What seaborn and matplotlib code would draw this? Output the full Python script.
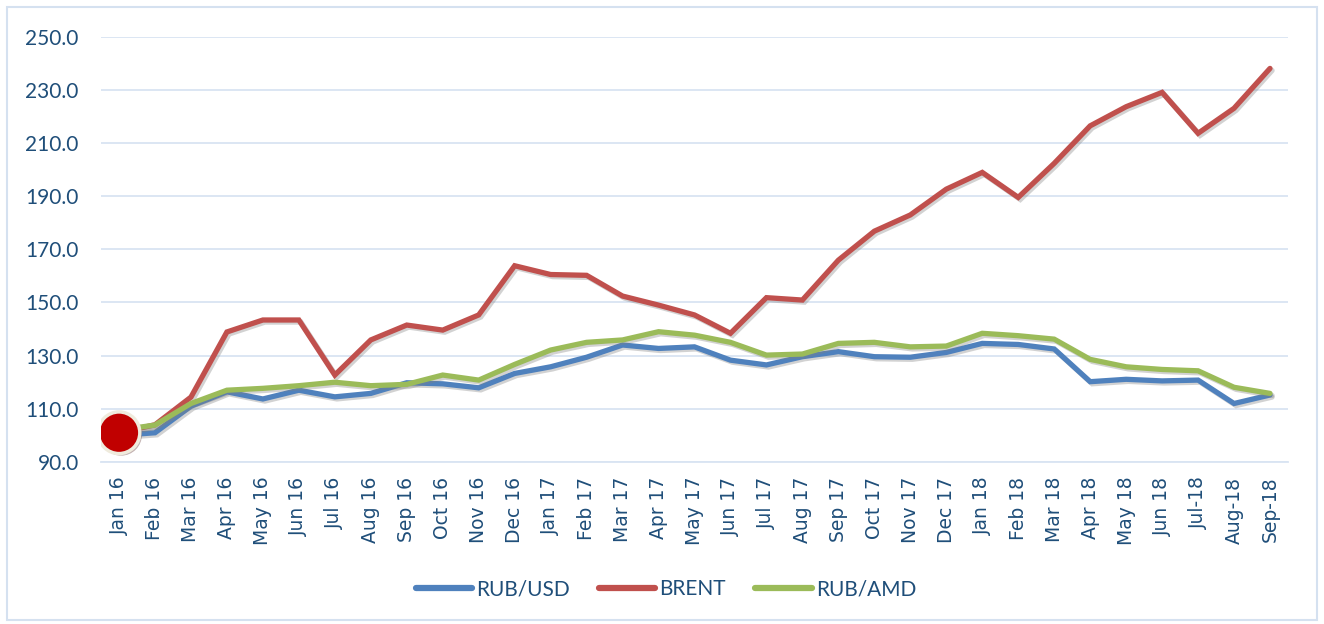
import matplotlib
matplotlib.use("Agg")
import matplotlib.pyplot as plt
import matplotlib.patheffects as pe
from matplotlib.patches import Rectangle
from matplotlib.lines import Line2D
import seaborn as sns
import pandas as pd

months = ["Jan 16", "Feb 16", "Mar 16", "Apr 16", "May 16", "Jun 16", "Jul 16",
          "Aug 16", "Sep 16", "Oct 16", "Nov 16", "Dec 16",
          "Jan 17", "Feb 17", "Mar 17", "Apr 17", "May 17", "Jun 17", "Jul 17",
          "Aug 17", "Sep 17", "Oct 17", "Nov 17", "Dec 17",
          "Jan 18", "Feb 18", "Mar 18", "Apr 18", "May 18", "Jun 18", "Jul-18",
          "Aug-18", "Sep-18"]

rub_usd = [100.0, 101.0, 111.0, 116.4, 113.7, 117.0, 114.5, 115.8, 119.8, 119.4,
           117.9, 123.3, 125.8, 129.4, 134.0, 132.7, 133.3, 128.3, 126.5, 129.6,
           131.5, 129.6, 129.4, 131.2, 134.6, 134.2, 132.5, 120.2, 121.1, 120.5,
           120.8, 112.0, 115.2]

brent = [101.0, 104.0, 114.4, 138.9, 143.4, 143.4, 122.7, 135.9, 141.5, 139.6,
         145.3, 163.8, 160.5, 160.2, 152.4, 149.0, 145.3, 138.4, 151.8, 150.9,
         165.9, 176.8, 182.9, 192.6, 198.9, 189.5, 202.3, 216.4, 223.6, 229.0,
         213.6, 223.0, 238.0]

rub_amd = [102.0, 103.9, 112.0, 117.0, 117.7, 118.7, 120.0, 118.7, 119.2, 122.7,
           120.8, 126.7, 132.1, 135.0, 135.9, 139.0, 137.7, 135.0, 130.2, 130.6,
           134.6, 135.0, 133.3, 133.6, 138.4, 137.5, 136.2, 128.6, 125.8, 124.8,
           124.3, 118.1, 115.8]

series_names = ["RUB/USD", "BRENT", "RUB/AMD"]
colors = ["#4F81BD", "#C0504D", "#9BBB59"]
yticks = [90, 110, 130, 150, 170, 190, 210, 230, 250]

text_col = "#1F4E79"
grid_col = "#D9E4F2"

rows = []
for name, vals in zip(series_names, [rub_usd, brent, rub_amd]):
    for i, v in enumerate(vals):
        rows.append({"idx": i, "value": v, "series": name})
df = pd.DataFrame(rows)

sns.set_style("white")
plt.rcParams["font.family"] = ["DejaVu Sans"]

fig = plt.figure(figsize=(13.24, 6.24), dpi=100)
ax = fig.add_axes([0.0763, 0.2596, 0.8965, 0.6819])

shadow = [pe.SimpleLineShadow(offset=(1.5, -1.5), shadow_color="gray", alpha=0.35),
          pe.Normal()]
sns.lineplot(data=df, x="idx", y="value", hue="series", hue_order=series_names,
             palette=colors, linewidth=3.8, sort=False, ax=ax,
             path_effects=shadow, solid_joinstyle="miter", legend=False)

# red marker on the first point
ax.scatter([0], [brent[0]], s=900, color="#C00000", edgecolor="#EFEBDD",
           linewidth=2.5, zorder=10,
           path_effects=[pe.SimplePatchShadow(offset=(1.5, -1.5), alpha=0.3), pe.Normal()])

ax.set_xlim(-0.5, len(months) - 0.5)
ax.set_ylim(90, 250)
ax.set_yticks(yticks)
ax.set_yticklabels([f"{t:.1f}" for t in yticks], fontfamily="Lato", fontsize=15,
                   color=text_col)
ax.set_xticks(range(len(months)))
ax.set_xticklabels(months, rotation=90, fontsize=13.5, color=text_col)
ax.set_xticks([i - 0.5 for i in range(len(months) + 1)], minor=True)
ax.tick_params(axis="x", which="major", length=0, pad=10.5)
ax.tick_params(axis="x", which="minor", length=4, width=1.2, color=grid_col)
ax.tick_params(axis="y", length=0, pad=16)
ax.set_xlabel("")
ax.set_ylabel("")

ax.grid(axis="y", color=grid_col, linewidth=1.3)
ax.grid(axis="x", visible=False)
for s in ["top", "right", "left"]:
    ax.spines[s].set_visible(False)
ax.spines["bottom"].set_color(grid_col)
ax.spines["bottom"].set_linewidth(1.3)

handles = [Line2D([0], [0], color=c, linewidth=4.5, solid_capstyle="round")
           for c in colors]
leg = fig.legend(handles, series_names, loc="center", bbox_to_anchor=(0.503, 0.056),
                 ncol=3, frameon=False, handlelength=2.7, handletextpad=0.2,
                 columnspacing=1.4, prop={"family": "Lato", "size": 15})
for t in leg.get_texts():
    t.set_color(text_col)

fig.patches.append(Rectangle((0.005, 0.007), 0.99, 0.982, transform=fig.transFigure,
                             fill=False, edgecolor="#D5E1F0", linewidth=1.5))

fig.savefig("out.png", dpi=100)
